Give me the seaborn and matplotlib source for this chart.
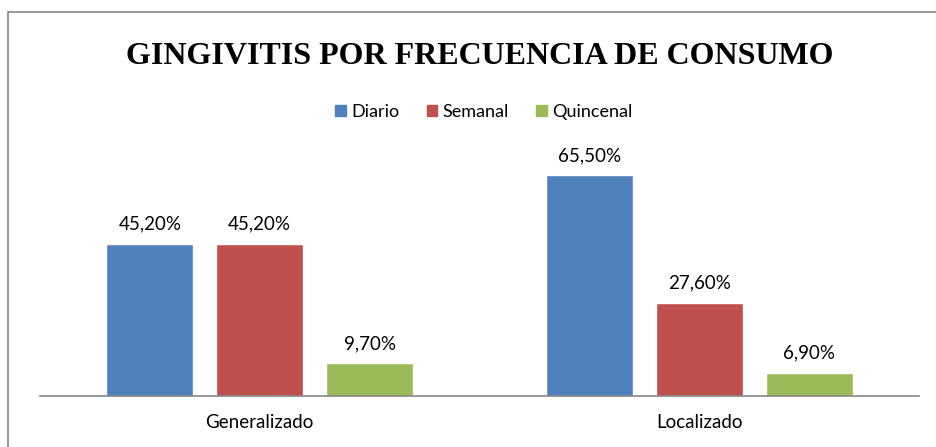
import pandas as pd
import seaborn as sns
import matplotlib.pyplot as plt
from matplotlib.patches import Rectangle

categorias = ['Generalizado', 'Localizado']
series = ['Diario', 'Semanal', 'Quincenal']
diario = [45.2, 65.5]
semanal = [45.2, 27.6]
quincenal = [9.7, 6.9]
colores = ['#4F81BD', '#C0504D', '#9BBB59']

df = pd.DataFrame({
    'tipo': categorias * 3,
    'serie': [s for s in series for _ in categorias],
    'valor': diario + semanal + quincenal,
})

sns.set_style('white')
plt.rcParams['font.family'] = ['Lato', 'DejaVu Sans']
plt.rcParams['text.color'] = 'black'

W, H = 936, 447
fig = plt.figure(figsize=(W / 100, H / 100), dpi=100)
ax = fig.add_axes([40 / W, 51 / H, 879 / W, 236 / H])

sns.barplot(data=df, x='tipo', y='valor', hue='serie', hue_order=series,
            order=categorias, palette=colores, width=0.75, gap=0.21,
            saturation=1, ax=ax, legend=False)

for cont in ax.containers:
    etiquetas = [f'{v:.2f}%'.replace('.', ',') for v in cont.datavalues]
    ax.bar_label(cont, labels=etiquetas, padding=8, fontsize=13.5, color='black')

ax.set_xlim(-0.5, 1.5)
ax.set_ylim(0, 70)
ax.set_xlabel('')
ax.set_ylabel('')
ax.set_yticks([])
ax.tick_params(axis='x', length=0, pad=13, labelsize=13.5, labelcolor='black')
for lado in ['left', 'right', 'top']:
    ax.spines[lado].set_visible(False)
ax.spines['bottom'].set_color('#868686')
ax.spines['bottom'].set_linewidth(1.2)

handles = [Rectangle((0, 0), 1, 1, color=c) for c in colores]
fig.legend(handles, series, loc='center', bbox_to_anchor=(484 / W, 1 - 112 / H),
           ncol=3, frameon=False, fontsize=13, handlelength=0.6,
           handleheight=0.6, handletextpad=0.3, columnspacing=1.5)

fig.text(480 / W, 1 - 56 / H, 'GINGIVITIS POR FRECUENCIA DE CONSUMO',
         ha='center', va='center', fontsize=23, fontweight='bold', color='black',
         family=['Liberation Serif', 'DejaVu Serif'])

fig.patches.append(Rectangle((8 / W, -0.1), 1.1, 1.1 - 12 / H,
                             transform=fig.transFigure, fill=False,
                             edgecolor='#868686', linewidth=1.2))

fig.savefig('out.png', dpi=100)
plt.close(fig)
